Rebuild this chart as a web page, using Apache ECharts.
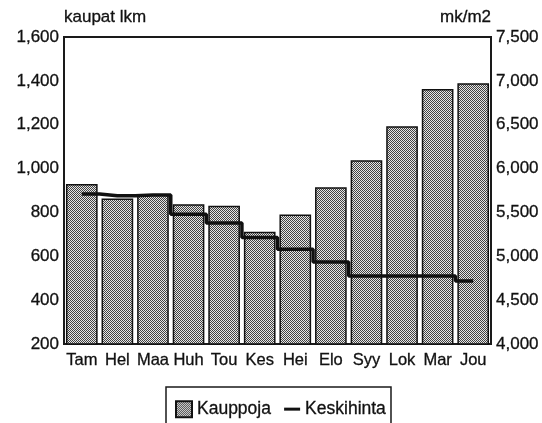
<!DOCTYPE html>
<html>
<head>
<meta charset="utf-8">
<script src="https://cdn.jsdelivr.net/npm/echarts@6/dist/echarts.min.js"></script>
<style>
html,body{margin:0;padding:0;background:#fff;}
#chart{width:542px;height:423px;}
</style>
</head>
<body>
<div id="chart"></div>
<script>
const months = ['Tam','Hel','Maa','Huh','Tou','Kes','Hei','Elo','Syy','Lok','Mar','Jou'];
const kauppoja = [930, 864, 882, 837, 831, 712, 790, 915, 1038, 1193, 1363, 1389];
const keskihinta = [5710, 5690, 5700, 5480, 5380, 5215, 5080, 4935, 4775, 4775, 4775, 4718];
const leftTicks = {min: 200, max: 1600, interval: 200};
const rightTicks = {min: 4000, max: 7500, interval: 500};

function makePattern() {
  const c = document.createElement('canvas');
  c.width = 2; c.height = 2;
  const g = c.getContext('2d');
  g.fillStyle = '#e6e6e6'; g.fillRect(0,0,2,2);
  g.fillStyle = '#424242';
  g.fillRect(0,0,1,1); g.fillRect(1,1,1,1);
  return c;
}
const pattern = {image: makePattern(), repeat: 'repeat'};
const font = 'Liberation Sans, Arial, sans-serif';
const fmt = v => v.toLocaleString('en-US');
const ink = '#111';
const heavy = {textBorderColor: ink, textBorderWidth: 0.3};

const chart = echarts.init(document.getElementById('chart'), null, {renderer: 'canvas'});
chart.setOption({
  backgroundColor: '#ffffff',
  animation: false,
  textStyle: {fontFamily: font, color: ink},
  grid: {left: 64, right: 51, top: 37, bottom: 79, show: true, borderColor: '#1a1a1a', borderWidth: 2},
  legend: {
    left: 166, top: 387,
    padding: [13, 5, 13, 9],
    borderColor: '#1a1a1a', borderWidth: 1.5,
    itemWidth: 16, itemHeight: 16, itemGap: 13,
    textStyle: Object.assign({fontFamily: font, fontSize: 17.5, color: ink}, heavy),
    data: [
      {name: 'Kauppoja', icon: 'rect'},
      {name: 'Keskihinta', icon: 'path://M0,7h16v3h-16z'}
    ]
  },
  xAxis: {
    type: 'category', data: months,
    axisLine: {lineStyle: {color: '#1a1a1a', width: 2}},
    axisTick: {show: false},
    axisLabel: Object.assign({fontSize: 16.5, color: ink, margin: 8, fontFamily: font, interval: 0}, heavy)
  },
  yAxis: [
    {
      type: 'value', position: 'left', ...leftTicks,
      name: 'kaupat lkm', nameLocation: 'end', nameGap: 20,
      nameTextStyle: Object.assign({fontSize: 17, color: ink, align: 'left', verticalAlign: 'middle', fontFamily: font}, heavy),
      axisLine: {show: true, lineStyle: {color: '#1a1a1a', width: 2}},
      axisTick: {show: false}, splitLine: {show: false},
      axisLabel: Object.assign({fontSize: 17, color: ink, margin: 5, fontFamily: font, formatter: fmt}, heavy)
    },
    {
      type: 'value', position: 'right', ...rightTicks,
      name: 'mk/m2', nameLocation: 'end', nameGap: 20,
      nameTextStyle: Object.assign({fontSize: 17, color: ink, align: 'right', verticalAlign: 'middle', fontFamily: font}, heavy),
      axisLine: {show: true, lineStyle: {color: '#1a1a1a', width: 2}},
      axisTick: {show: false}, splitLine: {show: false},
      axisLabel: Object.assign({fontSize: 17, color: ink, margin: 5, fontFamily: font, formatter: fmt}, heavy)
    }
  ],
  series: [
    {
      name: 'Kauppoja', type: 'bar', data: kauppoja, yAxisIndex: 0,
      barCategoryGap: '11%',
      itemStyle: {color: pattern, borderColor: '#111', borderWidth: 1.5}
    },
    {
      name: 'Keskihinta', type: 'line', data: keskihinta, yAxisIndex: 1,
      step: 'middle', symbol: 'none',
      lineStyle: {color: '#111', width: 3.5},
      itemStyle: {color: '#111'}
    }
  ]
});
</script>
</body>
</html>
